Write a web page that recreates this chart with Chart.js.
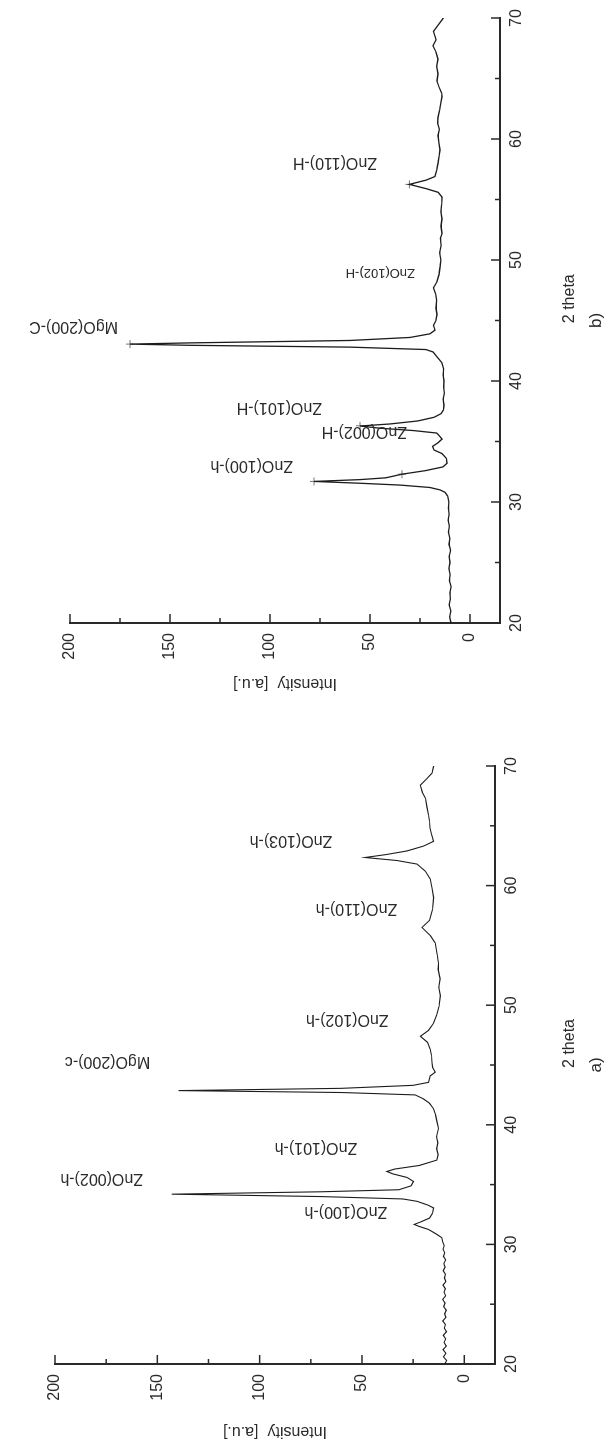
<!DOCTYPE html>
<html>
<head>
<meta charset="utf-8">
<script src="https://cdn.jsdelivr.net/npm/chart.js@4.4.1/dist/chart.umd.min.js"></script>
<style>
  html, body { margin: 0; padding: 0; background: #fff; }
  body { width: 609px; height: 1448px; overflow: hidden; position: relative; }
  /* the figure is drawn upright, then turned a quarter turn like the scan */
  #sheet { position: absolute; left: 0; top: 0; width: 1448px; height: 609px;
           transform-origin: 0 0; transform: translate(0, 1448px) rotate(-90deg); }
  .panel { position: absolute; top: 0; width: 724px; height: 609px; }
</style>
</head>
<body>
<div id="sheet">
  <div class="panel" style="left:0"><canvas id="chartA" width="724" height="609"></canvas></div>
  <div class="panel" style="left:724px"><canvas id="chartB" width="724" height="609"></canvas></div>
</div>
<script>
const FONT = "'Liberation Sans', Arial, sans-serif";
const INK = '#2a2a2a';

const thetaTicks = [20, 30, 40, 50, 60, 70];
const thetaMinor = [25, 35, 45, 55, 65];
const intensityTicks = [0, 50, 100, 150, 200];
const intensityMinor = [25, 75, 125, 175];

// a) pattern
const thetaA = [20.0, 20.3, 20.6, 20.9, 21.2, 21.5, 21.8, 22.1, 22.4, 22.7, 23.0, 23.3, 23.6, 23.9, 24.2, 24.5,
  24.8, 25.1, 25.4, 25.7, 26.0, 26.3, 26.6, 26.9, 27.2, 27.5, 27.8, 28.1, 28.4, 28.7, 29.0, 29.3, 29.6, 29.9,
  30.2, 30.56, 30.9, 31.25, 31.5, 31.67, 31.9, 32.2, 32.6, 33.05, 33.3, 33.6, 33.8, 34.0, 34.2, 34.4, 34.57,
  34.9, 35.26, 35.6, 35.9, 36.1, 36.3, 36.6, 37.05, 37.5, 38.0, 38.5, 39.0, 39.7, 40.3, 40.8, 41.33, 41.8,
  42.17, 42.5, 42.7, 42.86, 43.05, 43.3, 43.55, 44.1, 44.4, 44.8, 45.2, 45.8, 46.3, 46.9, 47.4, 47.9, 48.5,
  49.2, 49.9, 50.8, 51.5, 52.2, 53.0, 53.5, 54.2, 55.2, 55.8, 56.5, 57.1, 58.0, 59.0, 59.8, 60.55, 61.2, 61.8,
  62.1, 62.35, 62.6, 62.9, 63.3, 63.7, 64.3, 64.8, 65.4, 65.9, 66.6, 67.3, 67.8, 68.4, 68.9, 69.4, 70.0];
const intensityA = [9.5, 8.6, 10.2, 9.0, 10.4, 8.8, 9.9, 9.1, 10.3, 8.7, 9.8, 9.2, 10.5, 9.0, 9.6, 8.8,
  10.1, 9.4, 10.6, 9.1, 9.9, 9.3, 10.4, 9.0, 9.7, 9.2, 10.3, 9.4, 10.0, 9.1, 10.2, 9.6, 10.4, 9.8,
  10.5, 11.0, 14.0, 17.5, 22.0, 24.5, 21.0, 17.0, 15.5, 15.0, 18.0, 23.0, 30.0, 70.0, 143.0, 70.0, 32.0,
  26.0, 24.8, 28.0, 35.0, 37.8, 34.0, 22.0, 13.4, 12.8, 13.5, 12.9, 13.6, 12.6, 13.4, 14.0, 15.0, 17.0,
  20.0, 24.0, 60.0, 139.7, 60.0, 25.0, 17.5, 16.6, 14.2, 15.5, 15.8, 16.0, 16.6, 18.0, 21.5, 17.5, 15.0,
  13.5, 12.4, 11.7, 12.5, 11.8, 12.8, 12.6, 13.2, 14.2, 16.5, 20.7, 17.0, 15.5, 15.0, 15.8, 16.6, 19.0, 23.1,
  33.0, 48.4, 38.0, 28.0, 20.0, 15.0, 16.0, 16.8, 17.0, 17.5, 18.3, 19.0, 20.5, 21.5, 18.5, 15.8, 15.0];
const peakNamesA = ['ZnO(100)-h', 'ZnO(002)-h', 'ZnO(101)-h', 'MgO(200)-c', 'ZnO(102)-h', 'ZnO(110)-h', 'ZnO(103)-h'];
const peakThetaA = [32.8, 35.5, 38.1, 45.3, 48.8, 58.1, 63.8];
const peakIntA = [37.7, 157, 52.3, 153.5, 37, 32.8, 64.5];

// b) pattern
const thetaB = [20.0, 20.5, 21.0, 21.5, 22.0, 22.5, 23.0, 23.5, 24.0, 24.5, 25.0, 25.5, 26.0, 26.5, 27.0, 27.5,
  28.0, 28.5, 29.0, 29.5, 30.0, 30.5, 30.8, 31.0, 31.2, 31.4, 31.55, 31.7, 31.85, 32.0, 32.3, 32.6, 32.9, 33.2,
  33.6, 34.0, 34.3, 34.6, 34.9, 35.2, 35.5, 35.7, 35.9, 36.1, 36.28, 36.45, 36.7, 37.0, 37.3, 37.6, 38.0, 38.5,
  39.0, 39.5, 40.0, 40.5, 41.0, 41.5, 41.8, 42.1, 42.4, 42.6, 42.8, 42.95, 43.05, 43.15, 43.35, 43.6, 43.9,
  44.2, 44.6, 45.0, 45.5, 46.0, 46.7, 47.2, 47.7, 48.2, 48.8, 49.4, 50.0, 50.6, 51.2, 51.8, 52.2, 52.8, 53.4,
  54.0, 54.6, 55.2, 55.6, 55.9, 56.25, 56.6, 56.9, 57.4, 58.0, 58.6, 59.1, 59.7, 60.3, 60.8, 61.3, 61.8, 62.4,
  63.0, 63.5, 63.8, 64.3, 64.8, 65.4, 66.0, 66.6, 67.2, 67.7, 68.2, 68.9, 69.4, 70.0];
const intensityB = [9.5, 10.2, 9.6, 10.4, 9.8, 10.1, 9.4, 10.3, 9.9, 10.6, 10.0, 10.4, 9.7, 10.5, 10.1, 10.8,
  10.3, 10.9, 10.4, 10.8, 10.6, 11.2, 12.5, 15.0, 20.0, 35.0, 55.0, 78.0, 55.0, 42.0, 34.0, 22.0, 13.5, 11.5,
  11.8, 14.0, 18.0, 18.7, 16.0, 14.0, 15.5, 16.7, 28.0, 45.0, 55.0, 40.0, 26.0, 18.0, 14.5, 13.3, 13.0, 13.4,
  12.8, 13.2, 13.0, 13.4, 13.2, 14.0, 15.5, 17.0, 18.5, 22.0, 60.0, 140.0, 170.0, 140.0, 60.0, 30.0, 20.0,
  17.5, 18.3, 17.0, 16.5, 17.0, 16.7, 17.2, 18.3, 16.5, 15.5, 15.0, 14.6, 15.2, 14.4, 14.8, 14.0, 14.5, 14.0,
  14.6, 14.2, 14.0, 16.0, 22.0, 30.3, 22.0, 17.5, 16.7, 16.0, 15.4, 15.0, 15.6, 16.0, 15.3, 16.2, 16.0, 15.2,
  14.6, 14.0, 14.2, 15.5, 16.5, 16.0, 16.7, 16.0, 17.0, 18.5, 17.0, 18.3, 16.0, 13.3];
const markThetaB = [31.7, 32.3, 36.3, 43.05, 56.25];
const markIntB = [78, 34, 55, 170, 30.3];
const peakNamesB = ['ZnO(100)-h', 'ZnO(002)-H', 'ZnO(101)-H', 'MgO(200)-C', 'ZnO(102)-H', 'ZnO(110)-H'];
const peakThetaB = [33.0, 35.8, 37.85, 44.55, 49.0, 58.1];
const peakIntB = [88.5, 31.5, 74, 176, 27.5, 46.5];

// inward major/minor ticks, Origin style
const tickMarks = {
    id: 'tickMarks',
    afterDraw(chart) {
        const { ctx, chartArea, scales: { x, y } } = chart;
        ctx.save();
        ctx.strokeStyle = INK;
        ctx.lineWidth = 1.5;
        const tx = (v, len) => {
            const px = x.getPixelForValue(v);
            ctx.beginPath(); ctx.moveTo(px, chartArea.bottom); ctx.lineTo(px, chartArea.bottom - len); ctx.stroke();
        };
        const ty = (v, len) => {
            const py = y.getPixelForValue(v);
            ctx.beginPath(); ctx.moveTo(chartArea.left, py); ctx.lineTo(chartArea.left + len, py); ctx.stroke();
        };
        thetaTicks.forEach(v => tx(v, 9));
        thetaMinor.forEach(v => tx(v, 5));
        intensityTicks.forEach(v => ty(v, 9));
        intensityMinor.forEach(v => ty(v, 5));

        // x axis title sits a little off-centre in the original
        ctx.fillStyle = INK;
        ctx.font = '16px ' + FONT;
        ctx.textAlign = 'center';
        ctx.textBaseline = 'middle';
        ctx.fillText('2 theta', x.getPixelForValue(46.8), 570);
        ctx.restore();
    },
};

// vertical reflex names, reading upward from the given intensity
const peakLabels = {
    id: 'peakLabels',
    afterDatasetsDraw(chart, args, opts) {
        const { ctx, scales: { x, y } } = chart;
        ctx.save();
        ctx.fillStyle = INK;
        ctx.textAlign = 'left';
        ctx.textBaseline = 'middle';
        opts.names.forEach((name, i) => {
            const size = name === opts.small ? 13 : 16;
            ctx.font = size + 'px ' + FONT;
            ctx.save();
            ctx.translate(x.getPixelForValue(opts.thetas[i]), y.getPixelForValue(opts.ints[i]));
            ctx.rotate(-Math.PI / 2);
            ctx.fillText(name, 0, 0);
            ctx.restore();
        });
        ctx.restore();
    },
};

function render(canvasId, cfg) {
    const datasets = [{
        data: cfg.theta.map((t, i) => ({ x: t, y: cfg.intensity[i] })),
        showLine: true,
        borderColor: '#1c1c1c',
        borderWidth: cfg.lineWidth,
        pointRadius: 0,
        tension: 0,
    }];
    if (cfg.markTheta) {
        datasets.push({
            data: cfg.markTheta.map((t, i) => ({ x: t, y: cfg.markInt[i] })),
            showLine: false,
            pointStyle: 'cross',
            pointRadius: 4,
            borderColor: '#777',
            borderWidth: 1,
        });
    }
    const titleBox = 22.4;
    return new Chart(document.getElementById(canvasId), {
        type: 'scatter',
        data: { datasets },
        options: {
            responsive: false,
            animation: false,
            events: [],
            layout: { padding: { left: 0, right: cfg.padRight, top: cfg.padTop, bottom: 0 } },
            plugins: {
                legend: { display: false },
                tooltip: { enabled: false },
                title: {
                    display: true,
                    text: cfg.caption,
                    position: 'bottom',
                    fullSize: false,
                    color: INK,
                    font: { family: FONT, size: 17, weight: 'normal' },
                    padding: { top: 0, bottom: 2 },
                },
                peakLabels: { names: cfg.names, thetas: cfg.peakTheta, ints: cfg.peakInt, small: cfg.small },
            },
            scales: {
                x: {
                    type: 'linear',
                    min: 20,
                    max: 70,
                    afterBuildTicks: s => { s.ticks = thetaTicks.map(v => ({ value: v })); },
                    afterFit: s => { s.height = 609 - titleBox - cfg.areaBottom; },
                    grid: { display: false, drawTicks: false },
                    border: { display: true, color: INK, width: 2 },
                    ticks: { color: INK, font: { family: FONT, size: 16 }, padding: 7, maxRotation: 0, autoSkip: false },
                    title: { display: false },
                },
                y: {
                    type: 'linear',
                    min: -15,
                    max: 200,
                    afterBuildTicks: s => { s.ticks = intensityTicks.map(v => ({ value: v })); },
                    afterFit: s => { s.width = cfg.areaLeft; },
                    grid: { display: false, drawTicks: false },
                    border: { display: true, color: INK, width: 2 },
                    ticks: { color: INK, font: { family: FONT, size: 16 }, padding: 10, autoSkip: false },
                    title: { display: true, text: 'Intensity  [a.u.]', color: INK, font: { family: FONT, size: 16 }, padding: { top: cfg.yTitlePad, bottom: 0 } },
                },
            },
        },
        plugins: [tickMarks, peakLabels],
    });
}

render('chartA', {
    theta: thetaA, intensity: intensityA, lineWidth: 1.1,
    names: peakNamesA, peakTheta: peakThetaA, peakInt: peakIntA,
    caption: 'a)', areaLeft: 84, areaBottom: 495, padTop: 55, padRight: 42, yTitlePad: 7.4,
});

render('chartB', {
    theta: thetaB, intensity: intensityB, lineWidth: 1.3,
    markTheta: markThetaB, markInt: markIntB,
    names: peakNamesB, peakTheta: peakThetaB, peakInt: peakIntB, small: 'ZnO(102)-H',
    caption: 'b)', areaLeft: 101, areaBottom: 500, padTop: 70, padRight: 18, yTitlePad: 31.4,
});
</script>
</body>
</html>
